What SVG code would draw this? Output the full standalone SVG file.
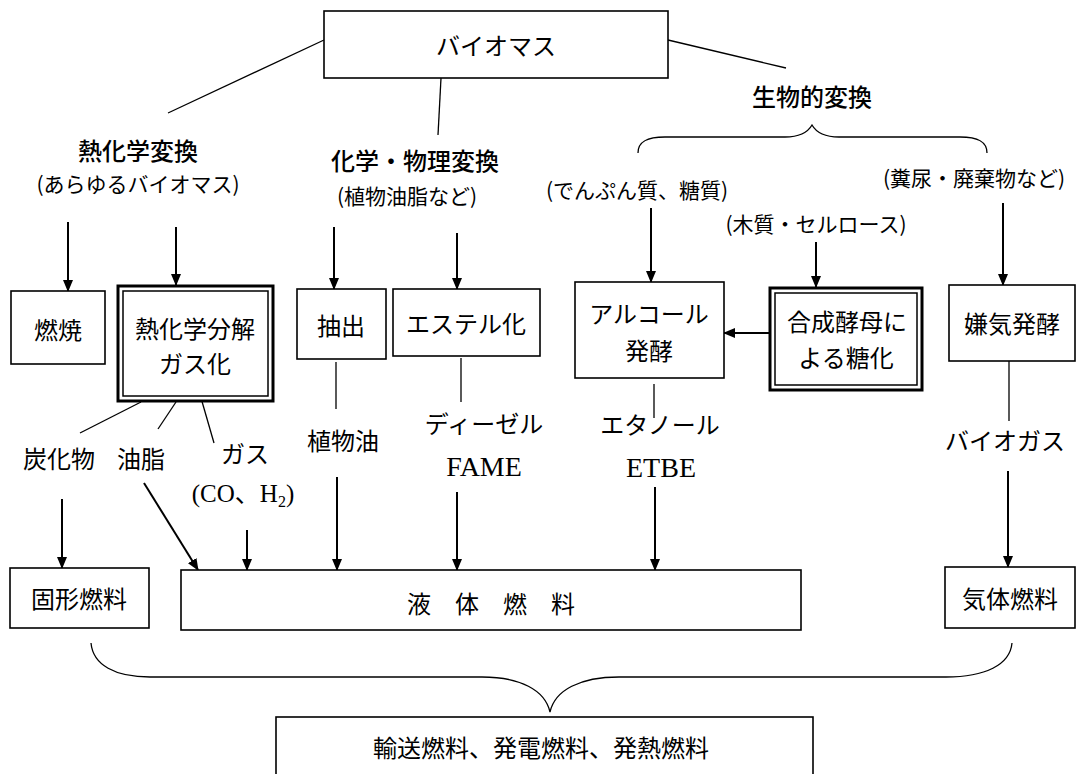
<svg xmlns="http://www.w3.org/2000/svg" width="1076" height="774" viewBox="0 0 1076 774">
<defs>
<marker id="ah" markerWidth="12" markerHeight="10" refX="11" refY="5" orient="auto" markerUnits="userSpaceOnUse">
<path d="M0,0 L12,5 L0,10 Z" fill="#000"/>
</marker>
<style>
.box{fill:#fff;stroke:#000;stroke-width:1.6}
.outer{fill:#fff;stroke:#000;stroke-width:3}
.inner{fill:none;stroke:#000;stroke-width:1.5}
.t{font-family:"Noto Sans CJK JP","Noto Sans CJK SC",sans-serif;font-size:24px;fill:#000;text-anchor:middle}
.h{font-weight:500}
.p{font-size:21px}
.s{font-family:"Liberation Serif","Noto Sans CJK JP",serif;font-size:25px;fill:#000;text-anchor:middle}
.big{font-size:28px}
.ln{stroke:#000;stroke-width:1.3;fill:none}
.ar{stroke:#000;stroke-width:2;fill:none;marker-end:url(#ah)}
</style>
</defs>
<rect width="1076" height="774" fill="#fff"/>

<g id="connectors">
<line class="ln" x1="324" y1="40" x2="168" y2="113"/>
<line class="ln" x1="441" y1="78" x2="438" y2="135"/>
<line class="ln" x1="668" y1="40" x2="786" y2="68"/>
<path class="ln" d="M638,153 C638,141 648,137 665,137 L785,137 C800,137 808,132 812,125 C816,132 824,137 839,137 L960,137 C977,137 987,141 987,153"/>
<line class="ar" x1="68" y1="222" x2="68" y2="291"/>
<line class="ar" x1="176" y1="227" x2="176" y2="285"/>
<line class="ar" x1="334" y1="227" x2="334" y2="289"/>
<line class="ar" x1="457" y1="233" x2="457" y2="289"/>
<line class="ar" x1="651" y1="208" x2="651" y2="282"/>
<line class="ar" x1="816" y1="242" x2="816" y2="287"/>
<line class="ar" x1="1003" y1="203" x2="1003" y2="285"/>
<line class="ar" x1="769" y1="333" x2="724" y2="333"/>
<line class="ln" x1="141" y1="402" x2="80" y2="433"/>
<line class="ln" x1="176" y1="402" x2="158" y2="429"/>
<line class="ln" x1="201" y1="398" x2="214" y2="443"/>
<line class="ln" x1="336" y1="362" x2="336" y2="409"/>
<line class="ln" x1="461" y1="358" x2="461" y2="402"/>
<line class="ln" x1="654" y1="384" x2="654" y2="418"/>
<line class="ln" x1="1009" y1="361" x2="1009" y2="421"/>
<line class="ar" x1="62" y1="499" x2="62" y2="568"/>
<line class="ar" x1="144" y1="483" x2="198" y2="570"/>
<line class="ar" x1="247" y1="530" x2="247" y2="570"/>
<line class="ar" x1="337" y1="477" x2="337" y2="570"/>
<line class="ar" x1="457" y1="492" x2="457" y2="570"/>
<line class="ar" x1="655" y1="487" x2="655" y2="570"/>
<line class="ar" x1="1008" y1="471" x2="1008" y2="567"/>
<path class="ln" d="M91,643 C93,665 115,677 150,677 L482,677 C520,677 545,690 550,712 C555,690 580,677 619,677 L946,677 C985,677 1010,665 1012,643"/>
</g>

<g id="biomass"><rect class="box" x="324" y="11" width="344" height="67"/><text class="t" x="496" y="55">バイオマス</text></g>

<g id="label-thermo"><text class="t h" x="138" y="160">熱化学変換</text><text class="t p" x="138" y="192">(あらゆるバイオマス)</text></g>
<g id="label-chem"><text class="t h" x="415" y="170">化学・物理変換</text><text class="t p" x="407" y="204">(植物油脂など)</text></g>
<g id="label-bio"><text class="t h" x="812" y="106">生物的変換</text></g>
<g id="label-starch"><text class="t p" x="637" y="198">(でんぷん質、糖質)</text></g>
<g id="label-waste"><text class="t p" x="974" y="186">(糞尿・廃棄物など)</text></g>
<g id="label-wood"><text class="t p" x="816" y="232">(木質・セルロース)</text></g>

<g id="combustion"><rect class="box" x="11" y="291" width="94" height="73"/><text class="t" x="58" y="339">燃焼</text></g>
<g id="pyrolysis"><rect class="outer" x="118" y="286" width="155" height="115"/><rect class="inner" x="123" y="291" width="145" height="105"/><text class="t" x="195" y="338">熱化学分解</text><text class="t" x="195" y="373">ガス化</text></g>
<g id="extraction"><rect class="box" x="297" y="289" width="89" height="70"/><text class="t" x="341" y="335">抽出</text></g>
<g id="ester"><rect class="box" x="393" y="289" width="147" height="67"/><text class="t" x="466" y="333">エステル化</text></g>
<g id="alcohol"><rect class="box" x="575" y="282" width="149" height="96"/><text class="t" x="649" y="323">アルコール</text><text class="t" x="649" y="360">発酵</text></g>
<g id="saccharification"><rect class="outer" x="770" y="288" width="152" height="102"/><rect class="inner" x="775" y="293" width="142" height="92"/><text class="t" x="847" y="331">合成酵母に</text><text class="t" x="846" y="367">よる糖化</text></g>
<g id="anaerobic"><rect class="box" x="949" y="285" width="126" height="76"/><text class="t" x="1012" y="333">嫌気発酵</text></g>

<g id="char"><text class="t" x="59" y="468">炭化物</text></g>
<g id="oil"><text class="t" x="141" y="468">油脂</text></g>
<g id="gas"><text class="t" x="245" y="463">ガス</text><text class="s" x="243" y="502">(CO、H<tspan font-size="16" dy="5">2</tspan><tspan dy="-5">)</tspan></text></g>
<g id="vegoil"><text class="t" x="343" y="450">植物油</text></g>
<g id="diesel"><text class="t" x="484" y="433">ディーゼル</text><text class="s big" x="484" y="476">FAME</text></g>
<g id="ethanol"><text class="t" x="660" y="434">エタノール</text><text class="s big" x="661" y="477">ETBE</text></g>
<g id="biogas"><text class="t" x="1005" y="450">バイオガス</text></g>

<g id="solid"><rect class="box" x="10" y="568" width="139" height="60"/><text class="t" x="79" y="608">固形燃料</text></g>
<g id="liquid"><rect class="box" x="181" y="570" width="620" height="60"/><text class="t" x="491" y="613">液　体　燃　料</text></g>
<g id="gaseous"><rect class="box" x="945" y="567" width="130" height="61"/><text class="t" x="1010" y="608">気体燃料</text></g>
<g id="uses"><rect class="box" x="276" y="717" width="537" height="62"/><text class="t" x="541" y="757">輸送燃料、発電燃料、発熱燃料</text></g>
</svg>
